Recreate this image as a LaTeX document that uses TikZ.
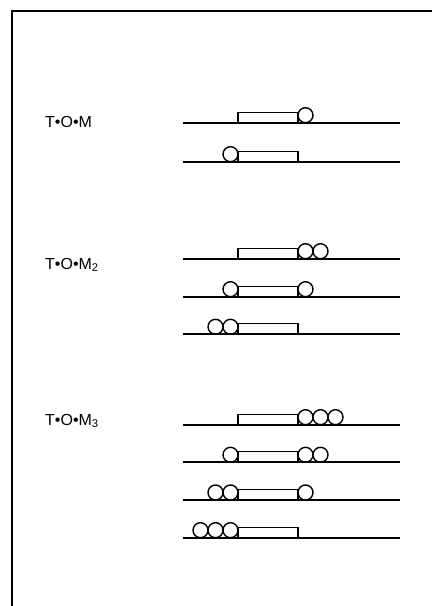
\documentclass[tikz,border=0pt]{standalone}
\usepackage{fontspec}
\setmainfont{Liberation Sans}
\begin{document}
\begin{tikzpicture}[x=1pt,y=-1pt,
  track/.style={line width=1.8pt},
  body/.style={line width=1.2pt},
  ball/.style={line width=1.4pt},
  lbl/.style={anchor=west, inner sep=0pt, font=\fontsize{16}{18}\selectfont}]
\useasboundingbox (0,0) rectangle (432,606);
% open frame: left and top edges
\draw[line width=1.6pt] (12,606) -- (12,11) -- (432,11);

% complex labels
\node[lbl] (tom1) at (45,122) {T•O•M};
\node[lbl] (tom2) at (45,265) {T•O•M\textsubscript{2}};
\node[lbl] (tom3) at (45,421) {T•O•M\textsubscript{3}};

% each row: baseline y / balls left of the bar / balls right of the bar
\foreach \yy/\nl/\nr in {122.7/0/1, 161.7/1/0,
                         258.7/0/2, 296.7/1/1, 334.3/2/0,
                         424.7/0/3, 462.3/1/2, 500/2/1, 537.7/3/0}{
  \draw[track] (183,\yy) -- (400,\yy);
  \draw[body] (238,\yy) -- (238,\yy-10.5) -- (298,\yy-10.5) -- (298,\yy);
  \foreach \k in {1,2,3}{
    \ifnum\k>\nl\relax\else
      \draw[ball] (238-7.5-15*\k+15,\yy-7.5) circle (7.5pt);
    \fi
    \ifnum\k>\nr\relax\else
      \draw[ball] (298+7.5+15*\k-15,\yy-7.5) circle (7.5pt);
    \fi
  }
}
\end{tikzpicture}
\end{document}
